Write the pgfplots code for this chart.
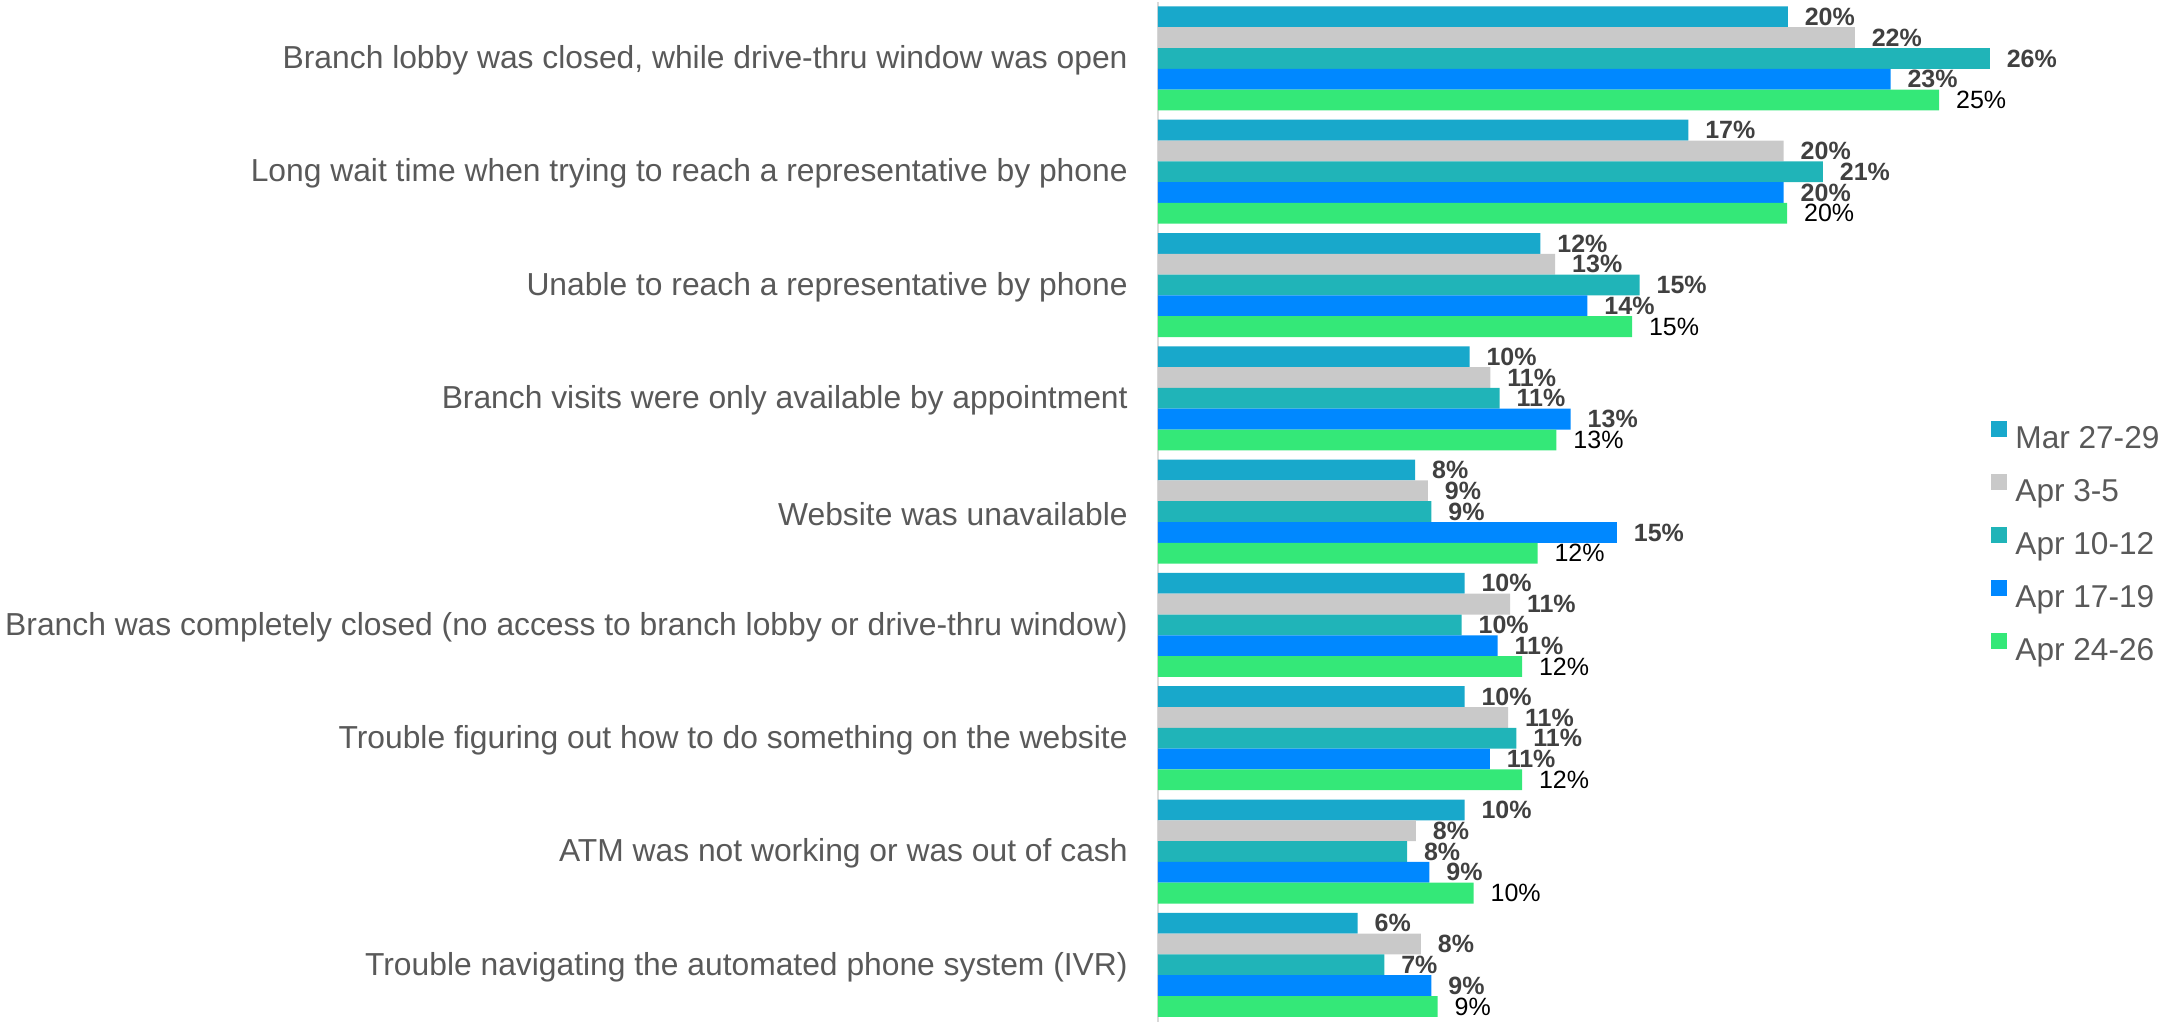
\documentclass[border=0pt]{standalone}
\usepackage{pgfplots}
\pgfplotsset{compat=1.18}
\usepackage{fontspec}
\setmainfont{Liberation Sans}
\definecolor{cMar}{HTML}{18A8CB}
\definecolor{cAa}{HTML}{C9C9C9}
\definecolor{cAb}{HTML}{20B4B8}
\definecolor{cAc}{HTML}{0088FF}
\definecolor{cAd}{HTML}{34E878}
\definecolor{txt}{HTML}{595959}
\definecolor{lbl}{HTML}{404040}
\definecolor{axl}{HTML}{D9D9D9}
\begin{document}
\begin{tikzpicture}
\useasboundingbox (0,0) rectangle (1082pt,511.5pt);
\begin{axis}[
  at={(579pt,0.75pt)}, anchor=south west,
  scale only axis, width=420.3pt, height=509.85pt,
  xbar=0pt, bar width=10.4pt,
  xmin=0, xmax=26.6, ymin=-0.5, ymax=8.5,
  clip=false,
  axis x line=none,
  axis y line*=left,
  y axis line style={draw=axl, line width=0.8pt, -},
  ytick={0,1,2,3,4,5,6,7,8},
  yticklabels={
    Trouble navigating the automated phone system (IVR),
    ATM was not working or was out of cash,
    Trouble figuring out how to do something on the website,
    Branch was completely closed (no access to branch lobby or drive-thru window),
    Website was unavailable,
    Branch visits were only available by appointment,
    Unable to reach a representative by phone,
    Long wait time when trying to reach a representative by phone,
    {Branch lobby was closed, while drive-thru window was open}},
  major tick length=0pt,
  yticklabel style={font=\fontsize{15.9}{19}\selectfont, color=txt, inner sep=0pt, xshift=-15pt, yshift=-1pt},
  point meta=explicit symbolic,
  nodes near coords={\pgfplotspointmeta\%},
  every node near coord/.append style={anchor=west, inner sep=0pt, xshift=8.3pt, font=\fontsize{12.5}{14}\selectfont\bfseries, color=lbl},
  legend image code/.code={\path[#1,draw=none] (0pt,1.66pt) rectangle (8pt,9.66pt);},
  legend style={at={(axis description cs:0.991,0.4675)}, anchor=west, draw=none, fill=none, inner sep=0pt,
    font=\fontsize{15.8}{18}\selectfont, text=txt, row sep=8.75pt, column sep=4pt,
    nodes={inner sep=0pt, text height=12pt, text depth=4pt}},
  legend cell align=left,
]
\addplot[fill=cMar, draw=none, bar shift=20.8pt] coordinates {
 (19.93,8) [20] (16.78,7) [17] (12.10,6) [12] (9.86,5) [10] (8.14,4) [8]
 (9.70,3) [10] (9.70,2) [10] (9.70,1) [10] (6.32,0) [6]};
\addlegendentry{Mar 27-29}
\addplot[fill=cAa, draw=none, bar shift=10.4pt] coordinates {
 (22.05,8) [22] (19.80,7) [20] (12.57,6) [13] (10.52,5) [11] (8.54,4) [9]
 (11.14,3) [11] (11.08,2) [11] (8.16,1) [8] (8.32,0) [8]};
\addlegendentry{Apr 3-5}
\addplot[fill=cAb, draw=none, bar shift=0pt] coordinates {
 (26.32,8) [26] (21.04,7) [21] (15.24,6) [15] (10.81,5) [11] (8.65,4) [9]
 (9.61,3) [10] (11.34,2) [11] (7.88,1) [8] (7.16,0) [7]};
\addlegendentry{Apr 10-12}
\addplot[fill=cAc, draw=none, bar shift=-10.4pt] coordinates {
 (23.18,8) [23] (19.80,7) [20] (13.59,6) [14] (13.06,5) [13] (14.52,4) [15]
 (10.75,3) [11] (10.50,2) [11] (8.59,1) [9] (8.65,0) [9]};
\addlegendentry{Apr 17-19}
\addplot[fill=cAd, draw=none, bar shift=-20.8pt,
  every node near coord/.append style={font=\fontsize{12.5}{14}\selectfont\mdseries, color=black}] coordinates {
 (24.72,8) [25] (19.91,7) [20] (15.00,6) [15] (12.61,5) [13] (12.01,4) [12]
 (11.52,3) [12] (11.52,2) [12] (9.99,1) [10] (8.85,0) [9]};
\addlegendentry{Apr 24-26}
\end{axis}
\end{tikzpicture}
\end{document}
